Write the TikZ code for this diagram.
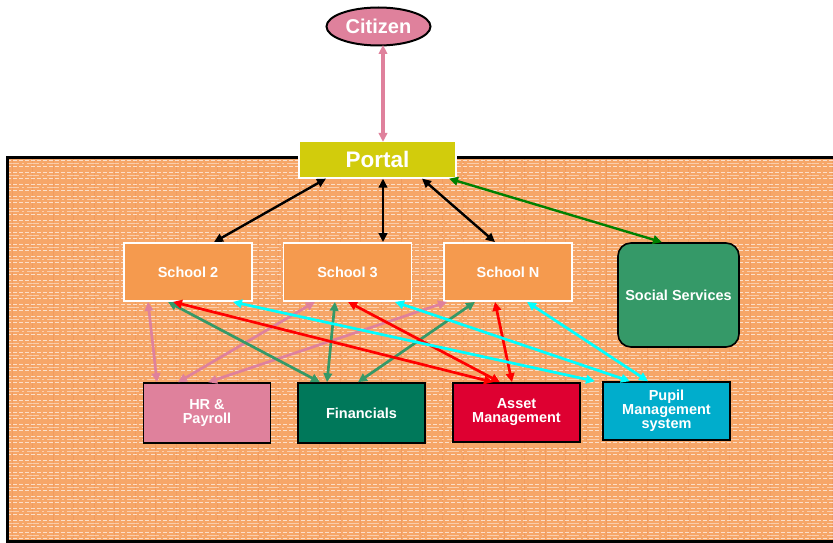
\documentclass[tikz,border=0pt]{standalone}
\usepackage{fontspec}
\setmainfont{Liberation Sans}
\usetikzlibrary{arrows.meta,shapes.geometric}

\definecolor{schoolorange}{RGB}{245,154,78}
\definecolor{bgorange}{RGB}{246,166,104}
\definecolor{bgline}{RGB}{238,150,90}
\definecolor{portalyellow}{RGB}{210,204,12}
\definecolor{rosepink}{RGB}{223,129,156}
\definecolor{socialgreen}{RGB}{53,153,104}
\definecolor{fingreen}{RGB}{0,120,90}
\definecolor{assetred}{RGB}{222,0,49}
\definecolor{pupilblue}{RGB}{0,173,204}
\definecolor{linkgreen}{RGB}{0,128,0}
\definecolor{linkcyan}{RGB}{0,255,255}
\definecolor{linkred}{RGB}{255,0,0}

\tikzset{
  label text/.style={text=white, font=\fontsize{14.5}{14}\selectfont\bfseries, align=center, inner sep=0pt},
  schoolbox/.style={label text, fill=schoolorange, draw=white, line width=1.8pt,
    minimum width=128pt, minimum height=58pt},
  systembox/.style={label text, draw=black, line width=1.6pt,
    minimum width=127pt, minimum height=59pt},
  link/.style={{Triangle[length=9pt,width=8.5pt]}-{Triangle[length=9pt,width=8.5pt]}, line width=2.7pt},
}

\begin{document}
\begin{tikzpicture}[x=1pt, y=-1pt]
\useasboundingbox (0,0) rectangle (833,543);
\clip (0,0) rectangle (833,543);

% textured orange backdrop
\fill[bgorange] (7,157) rectangle (845,542);
\begin{scope}
  \clip (7,157) rectangle (845,542);
  \foreach \x in {12,32.5,...,840} {
    \draw[bgline, line width=0.7pt, opacity=0.6] (\x,157) -- (\x,542);
  }
  \foreach \y in {160,166,...,540} {
    \draw[white, line width=1pt, opacity=0.65, dash pattern=on 4pt off 2pt] (7,\y) -- (845,\y);
  }
  \foreach \y in {163,175,...,540} {
    \draw[white, line width=0.7pt, opacity=0.45, dash pattern=on 12pt off 3pt on 2pt off 3pt] (7,\y) -- (845,\y);
  }
\end{scope}
\draw[black, line width=3pt] (845,157) -- (7,157) -- (7,541.5) -- (845,541.5);

% nodes
\node[ellipse, fill=rosepink, draw=black, line width=2pt, minimum width=104pt, minimum height=38pt,
  inner sep=0pt, text=white, font=\fontsize{20}{20}\selectfont\bfseries] (citizen) at (378.5,26.5) {Citizen};

\node[fill=portalyellow, draw=white, line width=1.2pt, minimum width=157pt, minimum height=37pt,
  inner sep=0pt, text=white, font=\fontsize{22.5}{22}\selectfont\bfseries] (portal) at (377.5,159.5) {Portal};

\node[schoolbox] (school2) at (188,272) {School 2};
\node[schoolbox] (school3) at (347.5,272) {School 3};
\node[schoolbox] (schoolN) at (508,272) {School N};

\node[label text, fill=socialgreen, draw=black, line width=1.6pt, rounded corners=13pt,
  minimum width=121pt, minimum height=104pt] (social) at (678.5,295) {Social Services};

\node[systembox, fill=rosepink, minimum height=60pt] (hr) at (207,413) {HR \&\\Payroll};
\node[systembox, fill=fingreen, minimum height=60pt] (fin) at (361.5,413) {Financials};
\node[systembox, fill=assetred] (asset) at (516.5,412.5) {Asset\\Management};
\node[systembox, fill=pupilblue, minimum height=58pt] (pupil) at (666.5,411) {Pupil\\Management\\system};

% citizen to portal
\draw[link, rosepink, line width=3.2pt] ([xshift=4.5pt,yshift=1.5pt]citizen.south) -- ([xshift=5.5pt,yshift=-1.5pt]portal.north);

% portal to schools and social services
\draw[link, black, line width=2.4pt] ([xshift=-51.5pt]portal.south) -- ([xshift=26pt]school2.north);
\draw[link, black, line width=2.4pt] ([xshift=5.5pt]portal.south) -- ([xshift=35.5pt]school3.north);
\draw[link, black, line width=2.4pt] ([xshift=44.5pt]portal.south) -- ([xshift=-13pt]schoolN.north);
\draw[link, linkgreen, line width=2.4pt] ([xshift=71.5pt]portal.south) -- ([xshift=-16.5pt]social.north);

% HR & Payroll
\draw[link, rosepink] ([xshift=-40pt]school2.south) -- ([xshift=-50pt]hr.north);
\draw[link, rosepink] ([xshift=-32.5pt]school3.south) -- ([xshift=-29pt]hr.north);
\draw[link, rosepink] ([xshift=-61pt]schoolN.south) -- ([xshift=1pt]hr.north);

% Financials
\draw[link, socialgreen] ([xshift=-20pt]school2.south) -- ([xshift=-41.5pt]fin.north);
\draw[link, socialgreen] ([xshift=-12.5pt]school3.south) -- ([xshift=-34.5pt]fin.north);
\draw[link, socialgreen] ([xshift=-33pt]schoolN.south) -- ([xshift=-3.5pt]fin.north);

% Asset Management
\draw[link, linkred] ([xshift=-15pt]school2.south) -- ([xshift=-23.5pt]asset.north);
\draw[link, linkred] ([xshift=0.5pt]school3.south) -- ([xshift=-16.5pt]asset.north);
\draw[link, linkred] ([xshift=-13pt]schoolN.south) -- ([xshift=-4.5pt]asset.north);

% Pupil Management system
\draw[link, linkcyan] ([xshift=45pt]school2.south) -- ([xshift=-71.5pt]pupil.north);
\draw[link, linkcyan] ([xshift=47.5pt]school3.south) -- ([xshift=-36.5pt]pupil.north);
\draw[link, linkcyan] ([xshift=19pt]schoolN.south) -- ([xshift=-18.5pt]pupil.north);
\end{tikzpicture}
\end{document}
